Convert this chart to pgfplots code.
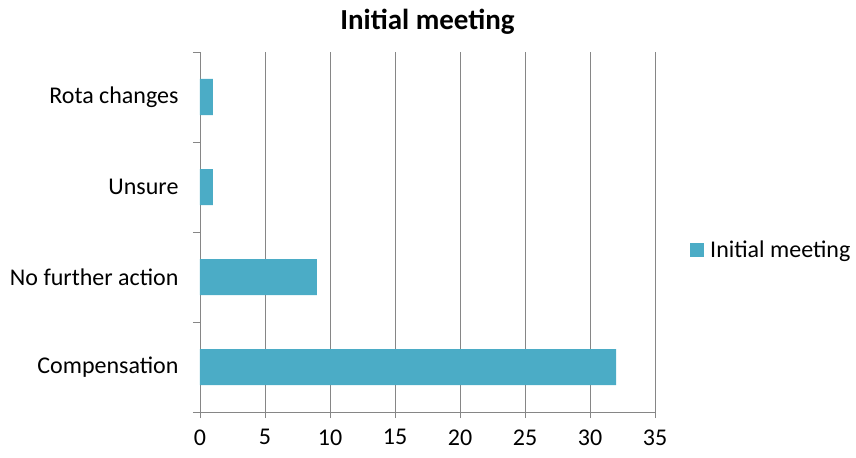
\documentclass[border=0pt]{standalone}
\usepackage{pgfplots}
\pgfplotsset{compat=1.18}
\usepackage{fontspec}
\setmainfont{Carlito}
\definecolor{barblue}{HTML}{4BACC6}
\definecolor{gridgray}{HTML}{868686}

\pgfplotstableread{
idx value
0 32
1 9
2 1
3 1
}\meetingdata

\begin{document}
\begin{tikzpicture}[x=1bp,y=1bp]
\useasboundingbox (-200bp,-46bp) rectangle (656bp,412bp);
\begin{axis}[
  at={(0,0)}, anchor=south west,
  scale only axis,
  width=455bp, height=360bp,
  xbar, bar width=36bp, bar shift=0pt,
  xmin=0, xmax=35,
  ymin=-0.5, ymax=3.5,
  xtick={0,5,...,35},
  ytick={0,1,2,3},
  yticklabels={Compensation,No further action,Unsure,Rota changes},
  minor ytick={-0.5,0.5,1.5,2.5,3.5},
  axis x line*=bottom, axis y line*=left,
  axis line style={gridgray, line width=0.8bp, -},
  xmajorgrids, major grid style={gridgray, line width=0.8bp},
  tick align=outside,
  major x tick style={gridgray, line width=0.8bp},
  major tick length=6bp,
  major y tick style={draw=none},
  minor y tick style={gridgray, line width=0.8bp},
  minor tick length=7bp,
  /pgf/number format/assume math mode=true,
  tick label style={font=\fontsize{24bp}{28bp}\selectfont},
  yticklabel style={xshift=-12bp},
  xticklabel style={yshift=-8bp},
  title={Initial meeting},
  title style={font=\fontsize{29bp}{33bp}\selectfont\bfseries, yshift=8bp},
  legend style={at={(1.077,0.45)}, anchor=west, draw=none, fill=none,
    font=\fontsize{24bp}{28bp}\selectfont, inner sep=0pt,
    legend cell align=left,
    nodes={inner xsep=6bp}},
  legend image code/.code={\fill[barblue] (0bp,-7bp) rectangle (14bp,7bp);},
]
\addplot[fill=barblue, draw=none] table[x=value, y=idx] {\meetingdata};
\addlegendentry{Initial meeting}
\end{axis}
\end{tikzpicture}
\end{document}
